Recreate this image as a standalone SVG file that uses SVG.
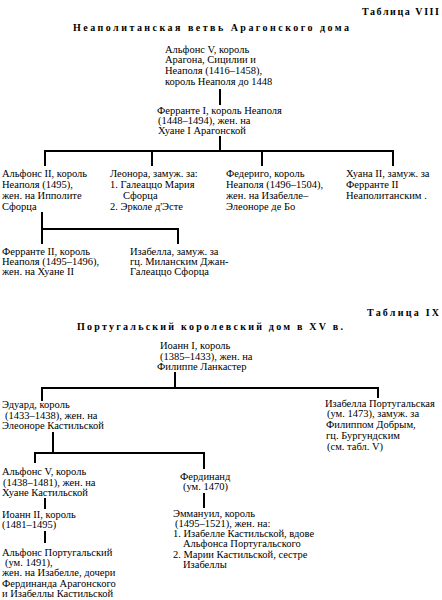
<svg xmlns="http://www.w3.org/2000/svg" width="442" height="600" viewBox="0 0 442 600">
<style>
text{font-family:"Liberation Serif","DejaVu Serif",serif;font-size:10.5px;fill:#000}
.hd{font-weight:bold;font-size:10px}
.ln{stroke:#000;stroke-width:2;fill:none}
</style>
<rect width="442" height="600" fill="#fff"/>
<g id="headers">
<text class="hd" x="362" y="15" textLength="77" lengthAdjust="spacing">Таблица VIII</text>
<text class="hd" x="73" y="31" textLength="276" lengthAdjust="spacing">Неаполитанская ветвь Арагонского дома</text>
<text class="hd" x="367" y="316" textLength="72" lengthAdjust="spacing">Таблица IX</text>
<text class="hd" x="77" y="330" textLength="266" lengthAdjust="spacing">Португальский королевский дом в XV в.</text>
</g>
<g id="connectors">
<path class="ln" d="M220 89V105"/>
<path class="ln" d="M220 136V151M45 166V151H393V166M152 151V166M262 151V166"/>
<path class="ln" d="M42 212V244M42 229H178V244"/>
<path class="ln" d="M175 372V388M42 401V388H378V398"/>
<path class="ln" d="M53 432V453M35 463V453H204V469"/>
<path class="ln" d="M204 493V508"/>
<path class="ln" d="M45 498V509M45 531V543"/>
</g>
<g id="alfonso5">
<text x="165" y="52.5">Альфонс V, король</text>
<text x="165" y="63.3">Арагона, Сицилии и</text>
<text x="165" y="74.1">Неаполя (1416–1458),</text>
<text x="165" y="84.9">король Неаполя до 1448</text>
</g>
<g id="ferrante1">
<text x="157" y="113.5">Ферранте I, король Неаполя</text>
<text x="158" y="123.8">(1448–1494), жен. на</text>
<text x="158" y="134.1">Хуане I Арагонской</text>
</g>
<g id="alfonso2">
<text x="2" y="176.5">Альфонс II, король</text>
<text x="2" y="187.5">Неаполя (1495),</text>
<text x="2" y="198.5">жен. на Ипполите</text>
<text x="2" y="209.5">Сфорца</text>
</g>
<g id="leonora">
<text x="110" y="176.5">Леонора, замуж. за:</text>
<text x="110" y="187.5">1. Галеаццо Мария</text>
<text x="123" y="198.5">Сфорца</text>
<text x="110" y="209.5">2. Эрколе д'Эсте</text>
</g>
<g id="federigo">
<text x="226" y="176.5">Федериго, король</text>
<text x="226" y="187.5">Неаполя (1496–1504),</text>
<text x="226" y="198.5">жен. на Изабелле–</text>
<text x="226" y="209.5">Элеоноре де Бо</text>
</g>
<g id="juana2">
<text x="346" y="176.5">Хуана II, замуж. за</text>
<text x="346" y="187.5">Ферранте II</text>
<text x="346" y="198.5">Неаполитанским .</text>
</g>
<g id="ferrante2">
<text x="2" y="254.5">Ферранте II, король</text>
<text x="2" y="264.8">Неаполя (1495–1496),</text>
<text x="2" y="275.1">жен. на Хуане II</text>
</g>
<g id="isabella">
<text x="130" y="254.5">Изабелла, замуж. за</text>
<text x="130" y="264.8">гц. Миланским Джан-</text>
<text x="130" y="275.1">Галеаццо Сфорца</text>
</g>
<g id="ioann1">
<text x="160" y="349.3">Иоанн I, король</text>
<text x="160" y="359.6">(1385–1433), жен. на</text>
<text x="157" y="369.9">Филиппе Ланкастер</text>
</g>
<g id="eduard">
<text x="2" y="408">Эдуард, король</text>
<text x="5" y="418.7">(1433–1438), жен. на</text>
<text x="2" y="429.4">Элеоноре Кастильской</text>
</g>
<g id="isabella-port">
<text x="325" y="406.5">Изабелла Португальская</text>
<text x="327" y="417.3">(ум. 1473), замуж. за</text>
<text x="326" y="428.1">Филиппом Добрым,</text>
<text x="326" y="438.9">гц. Бургундским</text>
<text x="327" y="449.7">(см. табл. V)</text>
</g>
<g id="alfonso5-port">
<text x="2" y="475.3">Альфонс V, король</text>
<text x="3" y="485.6">(1438–1481), жен. на</text>
<text x="2" y="495.9">Хуане Кастильской</text>
</g>
<g id="ferdinand">
<text x="180" y="479.5">Фердинанд</text>
<text x="183" y="490.3">(ум. 1470)</text>
</g>
<g id="emmanuel">
<text x="173" y="516.5">Эммануил, король</text>
<text x="175" y="526.8">(1495–1521), жен. на:</text>
<text x="173" y="537.1">1. Изабелле Кастильской, вдове</text>
<text x="183" y="547.4">Альфонса Португальского</text>
<text x="173" y="557.7">2. Марии Кастильской, сестре</text>
<text x="183" y="568">Изабеллы</text>
</g>
<g id="ioann2">
<text x="2" y="518">Иоанн II, король</text>
<text x="2" y="528.3">(1481–1495)</text>
</g>
<g id="alfonso-port">
<text x="2" y="556">Альфонс Португальский</text>
<text x="5" y="566.2">(ум. 1491),</text>
<text x="2" y="576.4">жен. на Изабелле, дочери</text>
<text x="2" y="586.6">Фердинанда Арагонского</text>
<text x="2" y="596.8">и Изабеллы Кастильской</text>
</g>
</svg>
